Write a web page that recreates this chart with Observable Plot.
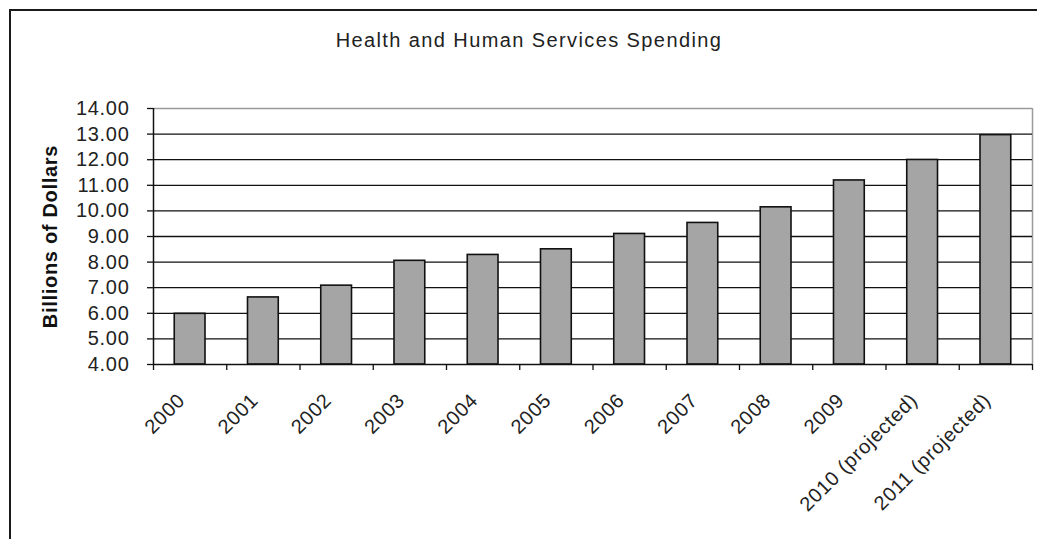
<!DOCTYPE html>
<html>
<head>
<meta charset="utf-8">
<script src="https://cdn.jsdelivr.net/npm/d3@7"></script>
<script src="https://cdn.jsdelivr.net/npm/@observablehq/plot@0.6"></script>
<style>
  html, body { margin: 0; padding: 0; background: #fff; }
  #wrap { position: relative; width: 1037px; height: 539px; overflow: hidden; font-family: "Liberation Sans", Arial, sans-serif; }
  #border { position: absolute; left: 9px; top: 9px; width: 2000px; height: 2000px; border-left: 2px solid #1a1a1a; border-top: 2px solid #1a1a1a; }
  #title { position: absolute; left: 0; width: 1058px; top: 29px; text-align: center; font-size: 20px; letter-spacing: 1.4px; color: #222; line-height: 22px; }
  #chart { position: absolute; left: 0; top: 0; }
</style>
</head>
<body>
<div id="wrap">
  <div id="chart"></div>
  <div id="border"></div>
  <div id="title">Health and Human Services Spending</div>
</div>
<script>
const categories = ["2000", "2001", "2002", "2003", "2004", "2005", "2006", "2007", "2008", "2009", "2010 (projected)", "2011 (projected)"];
const spending = [5.98, 6.62, 7.08, 8.05, 8.28, 8.50, 9.10, 9.53, 10.14, 11.19, 11.99, 12.96];
const yTicks = [4, 5, 6, 7, 8, 9, 10, 11, 12, 13, 14];
const gridValues = [5, 6, 7, 8, 9, 10, 11, 12, 13];
const yLabel = "Billions of Dollars";

const rows = categories.map((c, i) => ({ label: c, value: spending[i], i }));
const boundaries = d3.range(categories.length + 1);

const chart = Plot.plot({
  width: 1037,
  height: 539,
  marginLeft: 153,
  marginRight: 5,
  marginTop: 108,
  marginBottom: 175,
  style: { fontFamily: "Liberation Sans, Arial, sans-serif", color: "#222", background: "transparent", letterSpacing: "0.7px" },
  x: { type: "linear", domain: [0, categories.length], axis: null },
  y: { domain: [4, 14], axis: null },
  marks: [
    Plot.ruleY([14], { stroke: "#9a9a9a", strokeWidth: 1.5 }),
    Plot.ruleX([categories.length], { stroke: "#9a9a9a", strokeWidth: 1.5 }),
    Plot.ruleY(gridValues, { stroke: "#111", strokeWidth: 1.3 }),
    Plot.rectY(rows, {
      x1: d => d.i + 0.29,
      x2: d => d.i + 0.71,
      y1: 4,
      y2: "value",
      fill: "#a5a5a5",
      stroke: "#111",
      strokeWidth: 1.6
    }),
    Plot.ruleY([4], { stroke: "#111", strokeWidth: 1.5 }),
    Plot.ruleX([0], { stroke: "#111", strokeWidth: 1.5 }),
    Plot.axisX({ ticks: boundaries, tickSize: 6, tickFormat: () => "", stroke: "#111", strokeWidth: 1.3 }),
    Plot.axisY({
      ticks: yTicks,
      tickSize: 6,
      tickPadding: 18,
      tickFormat: d => d.toFixed(2),
      fontSize: 20,
      stroke: "#111",
      strokeWidth: 1.3,
      label: null
    }),
    Plot.text(rows, {
      x: d => d.i + 0.5,
      frameAnchor: "bottom",
      text: "label",
      rotate: -45,
      textAnchor: "end",
      lineAnchor: "top",
      dx: -14,
      dy: 27,
      fontSize: 20,
      fill: "#222",
      ariaLabel: "x labels"
    }),
    Plot.text([yLabel], {
      frameAnchor: "left",
      text: d => d,
      rotate: -90,
      textAnchor: "middle",
      lineAnchor: "middle",
      dx: -103,
      fontSize: 20,
      fontWeight: "bold",
      fill: "#111",
      ariaLabel: "y title"
    })
  ]
});
d3.select(chart).selectAll('g[aria-label="x labels"]').style("letter-spacing", "1.9px");
d3.select(chart).selectAll('g[aria-label="y title"]').style("letter-spacing", "1.8px");
document.getElementById("chart").appendChild(chart);
</script>
</body>
</html>
